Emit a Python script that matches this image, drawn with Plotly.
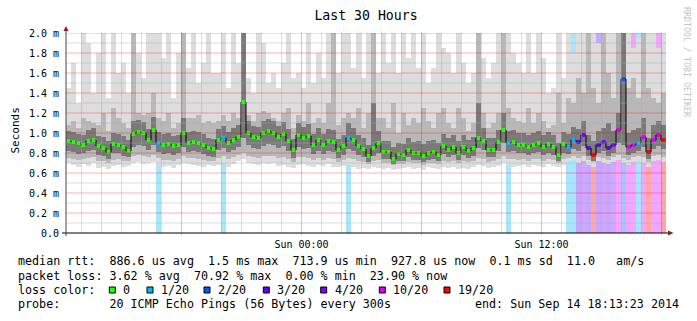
import plotly.graph_objects as go
from datetime import datetime, timedelta

# ---------------- data (ms) ----------------
START = datetime(2014, 9, 13, 12, 13, 23)
END = datetime(2014, 9, 14, 18, 13, 23)

median = [
    0.92, 0.91, 0.90, 0.88, 0.92, 0.93, 0.87, 0.85, 0.81, 0.89,
    0.88, 0.86, 0.82, 0.99, 1.01, 1.00, 0.93, 1.03, 0.90, 0.88,
    0.89, 0.87, 0.88, 1.00, 0.90, 0.91, 0.90, 0.88, 0.85, 0.84,
    0.93, 0.95, 0.90, 0.93, 0.96, 1.31, 1.00, 0.96, 0.95, 1.00,
    1.02, 1.00, 0.96, 0.99, 0.92, 0.83, 0.98, 0.95, 0.97, 0.88,
    0.93, 0.88, 0.92, 0.91, 0.83, 0.87, 0.95, 0.93, 0.87, 0.84,
    0.77, 0.85, 0.90, 0.81, 0.81, 0.74, 0.79, 0.78, 0.83, 0.80,
    0.80, 0.77, 0.80, 0.81, 0.78, 0.87, 0.83, 0.86, 0.80, 0.86,
    0.82, 0.85, 0.95, 0.92, 0.83, 0.83, 0.91, 1.03, 0.90, 0.91,
    0.88, 0.88, 0.86, 0.88, 0.90, 0.86, 0.89, 0.86, 0.78, 0.89,
    0.86, 0.93, 0.91, 0.98, 0.85, 0.78, 0.88, 0.91, 0.85, 0.88,
    1.03, 1.54, 0.86, 0.88, 0.90, 0.96, 0.81, 0.93, 0.98, 0.93,
]

loss = [
    0, 0, 0, 0, 0, 0, 0, 0, 0, 0,
    0, 0, 0, 0, 0, 0, 0, 0, 1, 0,
    0, 0, 0, 0, 0, 0, 0, 0, 0, 0,
    0, 1, 0, 0, 0, 0, 0, 0, 0, 0,
    0, 0, 0, 0, 0, 0, 0, 0, 0, 0,
    0, 0, 0, 0, 0, 0, 1, 0, 0, 0,
    0, 0, 0, 0, 0, 0, 0, 0, 0, 0,
    0, 0, 0, 0, 0, 0, 0, 0, 0, 0,
    0, 0, 0, 0, 0, 0, 0, 0, 1, 0,
    0, 0, 0, 0, 0, 0, 0, 0, 0, 0,
    1, 1, 3, 4, 3, 19, 3, 4, 3, 4,
    10, 2, 10, 10, 1, 10, 19, 10, 10, 19,
]

ping_min = [
    0.70, 0.68, 0.66, 0.69, 0.67, 0.70, 0.65, 0.66, 0.64, 0.67,
    0.68, 0.66, 0.67, 0.70, 0.71, 0.69, 0.70, 0.71, 0.68, 0.66,
    0.67, 0.65, 0.68, 0.70, 0.69, 0.68, 0.67, 0.66, 0.68, 0.67,
    0.68, 0.70, 0.66, 0.69, 0.72, 0.74, 0.70, 0.69, 0.68, 0.70,
    0.69, 0.70, 0.67, 0.68, 0.66, 0.65, 0.68, 0.69, 0.67, 0.66,
    0.68, 0.67, 0.69, 0.66, 0.66, 0.67, 0.68, 0.66, 0.64, 0.65,
    0.64, 0.66, 0.65, 0.64, 0.65, 0.63, 0.64, 0.65, 0.66, 0.64,
    0.65, 0.63, 0.66, 0.65, 0.64, 0.66, 0.65, 0.66, 0.64, 0.65,
    0.64, 0.66, 0.68, 0.67, 0.65, 0.66, 0.67, 0.70, 0.68, 0.66,
    0.67, 0.68, 0.66, 0.68, 0.67, 0.66, 0.69, 0.67, 0.66, 0.68,
    0.71, 0.73, 0.70, 0.72, 0.68, 0.66, 0.72, 0.70, 0.69, 0.71,
    0.73, 0.70, 0.68, 0.71, 0.72, 0.70, 0.66, 0.72, 0.73, 0.71,
]

ping_max = [
    1.45, 1.70, 1.30, 2.20, 1.90, 1.40, 1.80, 2.20, 1.35, 2.20,
    1.60, 1.70, 1.40, 2.20, 1.80, 1.55, 2.20, 2.20, 2.20, 1.75,
    2.20, 1.35, 1.80, 2.20, 1.65, 2.20, 1.50, 1.70, 2.20, 1.60,
    1.60, 2.20, 1.45, 2.20, 1.70, 2.20, 1.55, 1.40, 2.20, 1.90,
    1.50, 1.60, 1.45, 1.70, 2.20, 1.55, 1.60, 1.45, 2.20, 1.50,
    1.80, 1.55, 2.20, 1.75, 1.60, 2.20, 2.20, 1.65, 2.20, 1.55,
    2.20, 2.20, 1.60, 2.20, 1.70, 2.20, 1.60, 2.20, 1.75, 2.20,
    1.65, 2.20, 1.50, 1.65, 2.20, 1.85, 1.80, 1.60, 2.20, 1.70,
    1.50, 1.60, 2.20, 1.75, 1.55, 1.70, 2.20, 2.20, 2.20, 1.80,
    1.70, 1.60, 2.20, 1.60, 2.20, 1.75, 1.40, 1.45, 2.20, 1.55,
    2.20, 1.80, 2.20, 2.20, 1.90, 2.20, 1.90, 2.20, 2.20, 2.20,
    2.20, 2.20, 2.20, 1.85, 1.95, 2.20, 2.20, 2.20, 1.85, 2.20,
]

mid_lo = [
    0.75, 0.74, 0.73, 0.74, 0.75, 0.76, 0.72, 0.72, 0.70, 0.73,
    0.74, 0.72, 0.72, 0.77, 0.78, 0.77, 0.76, 0.78, 0.75, 0.73,
    0.73, 0.72, 0.74, 0.77, 0.75, 0.75, 0.74, 0.73, 0.72, 0.72,
    0.75, 0.77, 0.74, 0.76, 0.78, 0.80, 0.77, 0.76, 0.75, 0.77,
    0.77, 0.77, 0.75, 0.76, 0.74, 0.71, 0.76, 0.76, 0.75, 0.73,
    0.75, 0.73, 0.75, 0.74, 0.71, 0.73, 0.75, 0.74, 0.72, 0.71,
    0.69, 0.72, 0.73, 0.70, 0.70, 0.68, 0.69, 0.69, 0.71, 0.70,
    0.70, 0.68, 0.70, 0.70, 0.69, 0.72, 0.71, 0.72, 0.70, 0.72,
    0.71, 0.72, 0.75, 0.74, 0.71, 0.72, 0.74, 0.77, 0.74, 0.74,
    0.73, 0.74, 0.72, 0.74, 0.74, 0.72, 0.74, 0.73, 0.70, 0.74,
    0.75, 0.77, 0.75, 0.77, 0.73, 0.71, 0.76, 0.75, 0.73, 0.76,
    0.78, 0.75, 0.73, 0.76, 0.77, 0.76, 0.71, 0.77, 0.78, 0.76,
]

mid_hi = [
    1.08, 1.12, 1.05, 1.15, 1.12, 1.10, 1.08, 1.20, 1.02, 1.25,
    1.15, 1.10, 1.05, 2.20, 1.20, 1.18, 1.20, 1.40, 1.15, 1.12,
    1.20, 1.05, 1.10, 2.20, 1.15, 1.15, 1.18, 1.10, 1.12, 1.10,
    1.12, 1.18, 1.12, 1.20, 1.15, 2.20, 1.18, 1.12, 1.20, 1.22,
    1.20, 1.15, 1.12, 1.20, 1.25, 1.05, 1.18, 1.12, 1.30, 1.10,
    1.15, 1.10, 1.30, 2.20, 1.08, 1.15, 1.20, 1.15, 1.25, 1.05,
    1.20, 2.20, 1.15, 1.15, 1.05, 1.30, 1.00, 1.20, 1.08, 1.15,
    1.10, 1.25, 1.12, 1.05, 1.20, 1.25, 1.10, 1.05, 1.25, 1.15,
    1.02, 1.10, 2.20, 1.20, 1.05, 1.10, 1.20, 2.20, 1.25, 1.15,
    1.12, 1.10, 1.25, 1.10, 1.20, 1.12, 1.05, 1.08, 1.40, 1.10,
    1.35, 1.30, 1.55, 1.40, 2.20, 1.45, 1.30, 2.20, 1.60, 1.35,
    2.20, 2.20, 1.45, 1.55, 1.35, 2.20, 1.45, 1.35, 1.30, 1.40,
]

core_lo = [
    0.82, 0.81, 0.79, 0.80, 0.82, 0.83, 0.78, 0.77, 0.74, 0.80,
    0.80, 0.77, 0.76, 0.86, 0.88, 0.87, 0.83, 0.88, 0.81, 0.79,
    0.80, 0.78, 0.80, 0.86, 0.81, 0.82, 0.81, 0.79, 0.77, 0.76,
    0.83, 0.85, 0.81, 0.83, 0.86, 0.95, 0.88, 0.85, 0.84, 0.87,
    0.89, 0.88, 0.85, 0.87, 0.82, 0.75, 0.86, 0.84, 0.85, 0.79,
    0.82, 0.79, 0.82, 0.81, 0.75, 0.78, 0.84, 0.82, 0.78, 0.76,
    0.71, 0.77, 0.80, 0.74, 0.74, 0.69, 0.72, 0.72, 0.76, 0.73,
    0.73, 0.71, 0.73, 0.74, 0.72, 0.79, 0.76, 0.78, 0.73, 0.78,
    0.75, 0.77, 0.85, 0.83, 0.76, 0.76, 0.82, 0.90, 0.81, 0.82,
    0.80, 0.80, 0.78, 0.80, 0.81, 0.78, 0.80, 0.78, 0.72, 0.80,
    0.79, 0.84, 0.82, 0.87, 0.77, 0.72, 0.80, 0.82, 0.77, 0.80,
    0.90, 0.88, 0.78, 0.80, 0.82, 0.86, 0.74, 0.84, 0.87, 0.84,
]

core_hi = [
    1.02, 1.01, 0.99, 0.98, 1.03, 1.05, 0.97, 0.96, 0.92, 1.00,
    0.99, 0.97, 0.93, 1.12, 1.13, 1.11, 1.04, 1.16, 1.01, 0.99,
    1.00, 0.97, 0.98, 1.15, 1.01, 1.02, 1.01, 0.99, 0.95, 0.94,
    1.04, 1.07, 1.01, 1.05, 1.08, 2.20, 1.12, 1.07, 1.06, 1.12,
    1.14, 1.12, 1.07, 1.11, 1.04, 0.94, 1.10, 1.06, 1.09, 0.99,
    1.05, 0.99, 1.04, 1.03, 0.94, 0.98, 1.10, 1.05, 0.98, 0.95,
    0.88, 1.30, 1.02, 0.92, 0.92, 0.86, 0.90, 0.89, 0.95, 0.91,
    0.92, 0.89, 0.92, 0.93, 0.90, 0.99, 0.95, 0.98, 0.92, 0.98,
    0.93, 0.96, 1.30, 1.05, 0.95, 0.95, 1.03, 1.20, 1.02, 1.03,
    1.00, 1.00, 0.98, 1.00, 1.02, 0.98, 1.01, 0.98, 0.90, 1.01,
    0.99, 1.06, 1.04, 1.12, 0.98, 0.92, 1.02, 1.05, 1.10, 1.02,
    1.20, 2.20, 1.00, 1.03, 1.05, 1.15, 0.95, 1.08, 1.12, 1.08,
]

y_tick_vals = [0.0, 0.2, 0.4, 0.6, 0.8, 1.0, 1.2, 1.4, 1.6, 1.8, 2.0]
y_tick_text = ["0.0", "0.2 m", "0.4 m", "0.6 m", "0.8 m", "1.0 m",
               "1.2 m", "1.4 m", "1.6 m", "1.8 m", "2.0 m"]
x_tick_vals = [datetime(2014, 9, 14, 0, 0), datetime(2014, 9, 14, 12, 0)]
x_tick_text = ["Sun 00:00", "Sun 12:00"]

loss_levels = [0, 1, 2, 3, 4, 10, 19]
loss_labels = ["0", "1/20", "2/20", "3/20", "4/20", "10/20", "19/20"]
loss_colors = {0: "#26ff00", 1: "#00b8ff", 2: "#0059ff", 3: "#5e00ff",
               4: "#7e00ff", 10: "#dd00ff", 19: "#ff0000"}

legend_line1 = "median rtt:  886.6 us avg  1.5 ms max  713.9 us min  927.8 us now  0.1 ms sd  11.0   am/s"
legend_line2 = "packet loss: 3.62 % avg  70.92 % max  0.00 % min  23.90 % now"
legend_line3 = "loss color:"
legend_line4 = "probe:       20 ICMP Echo Pings (56 Bytes) every 300s"
legend_end = "end: Sun Sep 14 18:13:23 2014"

# ---------------- layout constants ----------------
W, H = 697, 321
L, R, T, B = 66, 31, 33, 88
PW, PH = W - L - R, H - T - B
Y_TOP = 2.0
MONO = "DejaVu Sans Mono"


def px(xp):
    return (xp - L) / PW


def py(yp):
    return (H - B - yp) / PH


def lighten(hexc, a=0.35):
    r, g, b = int(hexc[1:3], 16), int(hexc[3:5], 16), int(hexc[5:7], 16)
    f = lambda c: int(round(255 * (1 - a) + c * a))
    return "rgb(%d,%d,%d)" % (f(r), f(g), f(b))


def nb(s):
    return s.replace(" ", "\u00a0")


n = len(median)
step = (END - START) / n
centers = [START + step * (i + 0.5) for i in range(n)]
bw = step.total_seconds() * 1000

fig = go.Figure()

# loss background
lx = [c for c, l in zip(centers, loss) if l > 0]
lc = [lighten(loss_colors[l]) for l in loss if l > 0]
fig.add_trace(go.Bar(x=lx, y=[Y_TOP] * len(lx), base=0, width=bw,
                     marker=dict(color=lc, line=dict(width=0)), hoverinfo="skip"))

# smoke bands
for lo, hi, col in [(ping_min, ping_max, "#dddddd"),
                    (mid_lo, mid_hi, "#b8b8b8"),
                    (core_lo, core_hi, "#7a7a7a")]:
    fig.add_trace(go.Bar(x=centers, y=[h - l for l, h in zip(lo, hi)], base=lo,
                         width=bw, marker=dict(color=col, line=dict(width=0)),
                         hoverinfo="skip"))

# median
fig.add_trace(go.Scatter(x=centers, y=median, mode="lines",
                         line=dict(color="black", width=1, shape="hvh")))
fig.add_trace(go.Scatter(x=centers, y=median, mode="markers",
                         marker=dict(symbol="square", size=3.8,
                                     color=[loss_colors[l] for l in loss],
                                     line=dict(width=0))))

shapes = []
# grid above data
t = START.replace(minute=0, second=0) + timedelta(hours=1)
while t < END:
    major = t.hour % 6 == 0
    shapes.append(dict(type="line", xref="x", yref="paper", x0=t, x1=t,
                       y0=-0.01 if major else 0, y1=1.005, layer="above",
                       line=dict(color="rgba(255,0,0,0.3)" if major else "rgba(170,170,170,0.4)",
                                 width=1)))
    t += timedelta(hours=1)
for k in range(1, 21):
    yv = k * 0.1
    major = k % 2 == 0
    shapes.append(dict(type="line", xref="paper", yref="y", x0=0, x1=1,
                       y0=yv, y1=yv, layer="above",
                       line=dict(color="rgba(255,0,0,0.3)" if major else "rgba(170,170,170,0.4)",
                                 width=1)))
# axes
shapes.append(dict(type="line", xref="paper", yref="paper", x0=px(62), x1=px(669),
                   y0=0, y1=0, layer="above", line=dict(color="black", width=1)))
shapes.append(dict(type="line", xref="paper", yref="paper", x0=0, x1=0,
                   y0=py(236), y1=py(30), layer="above", line=dict(color="#444", width=1)))
shapes.append(dict(type="path", xref="paper", yref="paper", layer="above",
                   path="M %f,%f L %f,%f L %f,%f Z" % (px(668), py(230.5), px(673.5), py(233),
                                                       px(668), py(235.5)),
                   fillcolor="#8b1e1e", line=dict(width=0)))
shapes.append(dict(type="path", xref="paper", yref="paper", layer="above",
                   path="M %f,%f L %f,%f L %f,%f Z" % (px(63.5), py(31), px(66), py(26),
                                                       px(68.5), py(31)),
                   fillcolor="#8b1e1e", line=dict(width=0)))

annotations = []
FS = 11.7
for txt, yy in [(legend_line1, 261), (legend_line2, 275.5), (legend_line3, 290),
                (legend_line4, 304)]:
    annotations.append(dict(text=nb(txt), xref="paper", yref="paper", x=px(16),
                            y=py(yy), xanchor="left", yanchor="middle", showarrow=False,
                            font=dict(family=MONO, size=FS, color="black")))
annotations.append(dict(text=nb(legend_end), xref="paper", yref="paper", x=px(681),
                        y=py(304), xanchor="right", yanchor="middle", showarrow=False,
                        font=dict(family=MONO, size=FS, color="black")))

sq_x = [109.3, 147, 204, 263.3, 320.7, 379.3, 444]
for lvl, lab, sx in zip(loss_levels, loss_labels, sq_x):
    shapes.append(dict(type="rect", xref="paper", yref="paper", layer="above",
                       x0=px(sx), x1=px(sx + 6), y0=py(293), y1=py(287),
                       fillcolor=loss_colors[lvl], line=dict(color="black", width=1)))
    annotations.append(dict(text=lab, xref="paper", yref="paper", x=px(sx + 12),
                            y=py(290), xanchor="left", yanchor="middle", showarrow=False,
                            font=dict(family=MONO, size=FS, color="black")))

annotations.append(dict(text="Seconds", xref="paper", yref="paper", x=px(14.5),
                        y=py(131), xanchor="center", yanchor="middle", textangle=-90,
                        showarrow=False, font=dict(family=MONO, size=11, color="black")))
annotations.append(dict(text="RRDTOOL / TOBI OETIKER", xref="paper", yref="paper",
                        x=px(687), y=py(62), xanchor="center", yanchor="middle",
                        textangle=90, showarrow=False,
                        font=dict(family=MONO, size=8.3, color="#c4c4c4")))

fig.update_layout(
    width=W, height=H, margin=dict(l=L, r=R, t=T, b=B),
    paper_bgcolor="white", plot_bgcolor="white",
    barmode="overlay", bargap=0, showlegend=False,
    title=dict(text="Last 30 Hours", x=0.5, xref="paper", xanchor="center",
               y=1 - 15.5 / H, yanchor="middle",
               font=dict(family=MONO, size=13.2, color="black")),
    xaxis=dict(type="date", range=[START, END], showgrid=False, zeroline=False,
               showline=False, tickvals=x_tick_vals, ticktext=x_tick_text, ticks="",
               ticklabelstandoff=4,
               tickfont=dict(family=MONO, size=10, color="black")),
    yaxis=dict(range=[0, Y_TOP], showgrid=False, zeroline=False, showline=False,
               tickvals=y_tick_vals, ticktext=y_tick_text, ticks="",
               ticklabelstandoff=6,
               tickfont=dict(family=MONO, size=10, color="black")),
    shapes=shapes, annotations=annotations,
)

fig.write_html("out.html")
